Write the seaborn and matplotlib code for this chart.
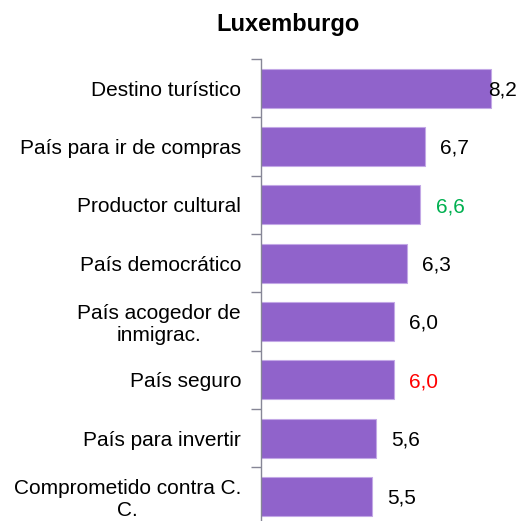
import numpy as np
import pandas as pd
import matplotlib
matplotlib.use("Agg")
import matplotlib.pyplot as plt
import seaborn as sns

# Data
categories = [
    "Destino turístico",
    "País para ir de compras",
    "Productor cultural",
    "País democrático",
    "País acogedor de\ninmigrac.",
    "País seguro",
    "País para invertir",
    "Comprometido contra C.\nC.",
]
scores = [8.2, 6.7, 6.6, 6.3, 6.0, 6.0, 5.6, 5.5]
score_labels = ["8,2", "6,7", "6,6", "6,3", "6,0", "6,0", "5,6", "5,5"]
label_colors = ["black", "black", "#00B050", "black", "black", "#FF0000", "black", "black"]
title = "Luxemburgo"

df = pd.DataFrame({"categoria": categories, "valor": scores})

sns.set_style("white")
plt.rcParams["font.family"] = ["Liberation Sans", "DejaVu Sans"]
plt.rcParams["text.color"] = "black"
plt.rcParams["ytick.labelcolor"] = "black"

fig = plt.figure(figsize=(5.19, 5.21), dpi=100)
ax = fig.add_axes([261 / 519, -0.0088, 258 / 519, 0.8956])

sns.barplot(
    data=df,
    y="categoria",
    x="valor",
    orient="h",
    color="#9063CB",
    saturation=1,
    width=0.67,
    edgecolor="#C3A8E6",
    linewidth=0.8,
    ax=ax,
)

x_min, x_max = 3, 3 + 258 / 44.2
ax.set_xlim(x_min, x_max)
ax.set_ylim(len(categories) - 0.5, -0.5)

# value labels to the right of each bar, kept inside the plot area
for i, (v, txt, col) in enumerate(zip(scores, score_labels, label_colors)):
    lx = min(v + 0.35, x_max - 0.7)
    ax.text(lx, i + 0.03, txt, color=col, fontsize=15, va="center", ha="left")

ax.set_xlabel("")
ax.set_ylabel("")
ax.set_xticks([])
for side in ["top", "right", "bottom"]:
    ax.spines[side].set_visible(False)
ax.spines["left"].set_color("#868696")
ax.spines["left"].set_linewidth(1.0)

# tick marks sit between categories
ax.set_yticks(np.arange(-0.5, len(categories), 1.0), minor=True)
ax.tick_params(axis="y", which="minor", length=7, width=1, color="#868696", direction="out", left=True)
ax.tick_params(axis="y", which="major", length=0, pad=14.4, labelsize=15, labelcolor="black")
for lab in ax.get_yticklabels():
    lab.set_multialignment("center")

fig.text(287.5 / 519, 1 - 24 / 521, title, fontsize=17, fontweight="bold",
         ha="center", va="center", color="black")

fig.savefig("out.png", dpi=100)
